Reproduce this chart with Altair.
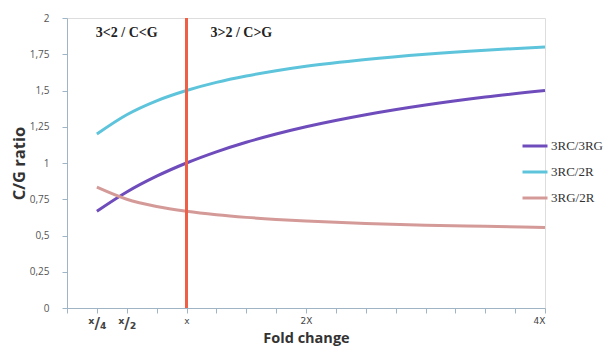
import altair as alt
import pandas as pd

# Data
fold = [0.25, 0.5, 0.75, 1.0, 1.25, 1.5, 1.75, 2.0, 2.5, 3.0, 3.5, 4.0]
rc_rg = [0.667, 0.800, 0.909, 1.000, 1.077, 1.143, 1.200, 1.250, 1.333, 1.400, 1.455, 1.500]
rc_2r = [1.200, 1.333, 1.429, 1.500, 1.556, 1.600, 1.636, 1.667, 1.714, 1.750, 1.778, 1.800]
rg_2r = [0.833, 0.750, 0.700, 0.667, 0.643, 0.625, 0.611, 0.600, 0.583, 0.571, 0.563, 0.556]
series_names = ["3RC/3RG", "3RC/2R", "3RG/2R"]
series_colors = ["#6F4CBB", "#5DC4DB", "#D49A98"]

x_ticks = [0, 0.25, 0.5, 0.75, 1, 1.25, 1.5, 1.75, 2, 2.25, 2.5, 2.75, 3, 3.25, 3.5, 3.75, 4]
y_ticks = [0, 0.25, 0.5, 0.75, 1, 1.25, 1.5, 1.75, 2]
split_x = 1.0
ann_text = ["3<2 / C<G", "3>2 / C>G"]
ann_x = [0.5, 1.2]
ann_y = [1.9, 1.9]

rows = []
for name, vals in zip(series_names, [rc_rg, rc_2r, rg_2r]):
    for f, v in zip(fold, vals):
        rows.append({"fold": f, "ratio": v, "series": name})
df = pd.DataFrame(rows)

axis_color = "#9FB4C4"

x_enc = alt.X(
    "fold:Q",
    scale=alt.Scale(domain=[0, 4], nice=False),
    axis=alt.Axis(
        values=x_ticks,
        title="Fold change",
        titleFont="Open Sans",
        titleFontSize=14.5,
        titleFontWeight="bold",
        titleColor="#333333",
        titleBaseline="bottom",
        titleY=37,
        labelExpr="datum.value == 0.25 ? 'ˣ/₄' : datum.value == 0.5 ? 'ˣ/₂' : datum.value == 1 ? 'x' : datum.value == 2 ? '2X' : datum.value == 4 ? '4X' : ''",
        labelFontSize={"condition": {"test": "datum.value < 1", "value": 15}, "value": 9},
        labelFontWeight={"condition": {"test": "datum.value < 1", "value": "bold"}, "value": "normal"},
        labelColor="#444444",
        labelFont="DejaVu Sans",
        labelPadding=3,
        labelOverlap=False,
        domainColor=axis_color,
        tickColor=axis_color,
        tickSize=5,
        grid=False,
    ),
)

y_enc = alt.Y(
    "ratio:Q",
    scale=alt.Scale(domain=[0, 2], nice=False),
    axis=alt.Axis(
        values=y_ticks,
        title="C/G ratio",
        titleFont="Open Sans",
        titleFontSize=16.5,
        titleFontWeight="bold",
        titleColor="#333333",
        titlePadding=2,
        labelExpr="replace(toString(datum.value), '.', ',')",
        labelFontSize=10,
        labelColor="#555555",
        labelFont="Open Sans",
        labelPadding=13,
        labelOverlap=False,
        domainColor=axis_color,
        tickColor=axis_color,
        tickSize=5,
        grid=False,
    ),
)

lines = alt.Chart(df).mark_line(strokeWidth=3, interpolate="monotone").encode(
    x=x_enc,
    y=y_enc,
    color=alt.Color(
        "series:N",
        scale=alt.Scale(domain=series_names, range=series_colors),
        sort=series_names,
        legend=alt.Legend(
            title=None,
            orient="none",
            legendX=454,
            legendY=114,
            symbolType="stroke",
            symbolSize=625,
            symbolStrokeWidth=3,
            labelFont="Liberation Serif",
            labelFontSize=13,
            labelColor="#333333",
            rowPadding=5,
            labelOffset=2,
            labelLimit=200,
        ),
    ),
)

rule = alt.Chart(pd.DataFrame({"fold": [split_x]})).mark_rule(
    color="#EF5F45", strokeWidth=3
).encode(x=x_enc)

ann_df = pd.DataFrame({"t": ann_text, "fold": ann_x, "ratio": ann_y})
ann_left = alt.Chart(ann_df.iloc[[0]]).mark_text(
    font="Liberation Serif", fontSize=14, fontWeight="bold", color="#222222", align="center"
).encode(x=x_enc, y=y_enc, text="t:N")
ann_right = alt.Chart(ann_df.iloc[[1]]).mark_text(
    font="Liberation Serif", fontSize=14, fontWeight="bold", color="#222222", align="left"
).encode(x=x_enc, y=y_enc, text="t:N")

chart = alt.layer(lines, rule, ann_left, ann_right).properties(
    width=478,
    height=290,
    autosize=alt.AutoSizeParams(type="none"),
    padding={"left": 59, "top": 10, "right": 61, "bottom": 38},
).configure_view(stroke=None).configure(background="white")

chart.save("out.html", embed_options={"renderer": "svg", "actions": False})
